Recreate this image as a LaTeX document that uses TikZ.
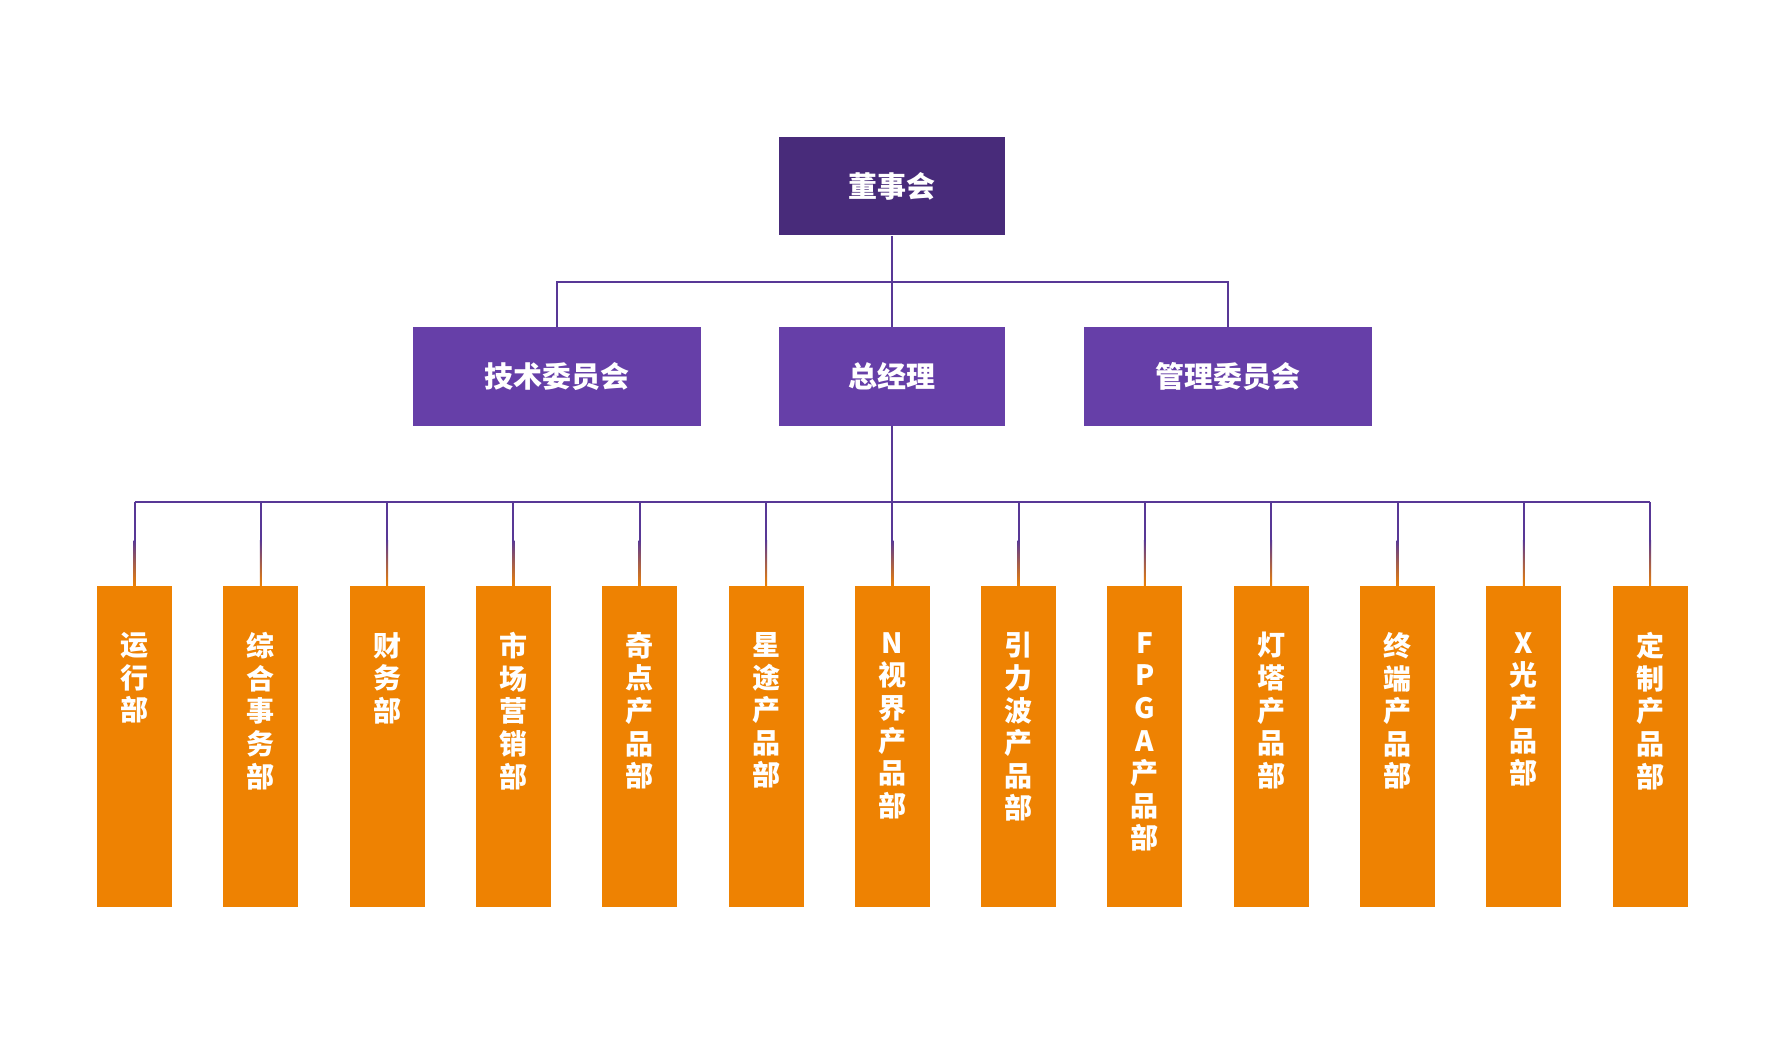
\documentclass[tikz,border=0pt]{standalone}
\usepackage{fontspec}
\setmainfont{Noto Sans CJK SC}
\definecolor{boardviolet}{RGB}{72,43,122}
\definecolor{execviolet}{RGB}{102,63,168}
\definecolor{linkviolet}{RGB}{88,56,150}
\definecolor{deptorange}{RGB}{238,130,2}
\begin{document}
\begin{tikzpicture}[x=.5pt,y=-.5pt,
                    line/.style={line width=1pt,draw=linkviolet},
                    board/.style={fill=boardviolet,text=white,inner sep=0pt,
                      minimum width=113pt,minimum height=49pt,
                      font=\fontsize{14.5}{17}\selectfont\bfseries},
                    office/.style={fill=execviolet,text=white,inner sep=0pt,
                      minimum width=144pt,minimum height=49.5pt,
                      font=\fontsize{14.5}{17}\selectfont\bfseries},
                    dept/.style={fill=deptorange,inner sep=0pt,anchor=north,
                      minimum width=37.5pt,minimum height=160.5pt},
                    depttext/.style={text=white,inner sep=0pt,anchor=north,align=center,
                      font=\fontsize{14}{16.3}\selectfont\bfseries}]
 \useasboundingbox (0,0) rectangle (1785,1059);
 \node[board] (dsh) at (892,186.5) {董事会};
 \node[office] (jswyh) at (556.5,376.5) {技术委员会};
 \node[office,minimum width=113pt] (zjl) at (892,376.5) {总经理};
 \node[office] (glwyh) at (1227.5,376.5) {管理委员会};
 \coordinate (fork) at (892,282);
 \draw[line] (dsh.south)--(fork);
 \draw[line] (jswyh.north)|-(fork)-|(glwyh.north);
 \draw[line] (fork)--(zjl.north);
 \coordinate (busl) at (134.5,502); \coordinate (busr) at (1650,502);
 \draw[line] (zjl.south)--(zjl.south|-busl);
 \draw[line] (busl)--(busr);
 \foreach \t [count=\i] in {{运\\行\\部},{综\\合\\事\\务\\部},{财\\务\\部},
     {市\\场\\营\\销\\部},{奇\\点\\产\\品\\部},{星\\途\\产\\品\\部},
     {N\\视\\界\\产\\品\\部},{引\\力\\波\\产\\品\\部},{F\\P\\G\\A\\产\\品\\部},
     {灯\\塔\\产\\品\\部},{终\\端\\产\\品\\部},{X\\光\\产\\品\\部},
     {定\\制\\产\\品\\部}}{
   \pgfmathsetmacro\xx{8.2+126.3*\i}
   \node[dept] (d\i) at (\xx,586) {};
   \node[depttext] (t\i) at (\xx,632) {\t};
   \coordinate (bus\i) at (\xx,502);
   \draw[line] (bus\i)--(d\i.north);
   \shade[top color=linkviolet,bottom color=deptorange]
     (\xx-1,540) rectangle (\xx+1,586);
 }
\end{tikzpicture}
\end{document}
